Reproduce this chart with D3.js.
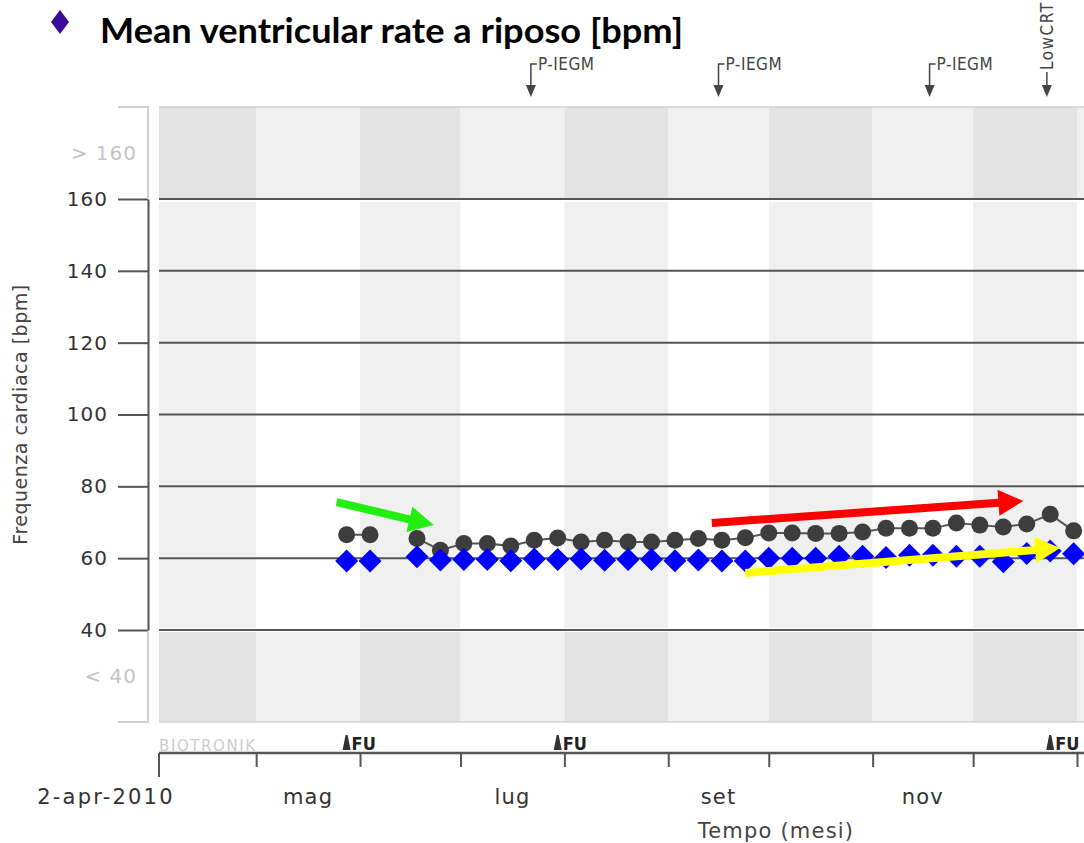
<!DOCTYPE html>
<html>

<head>
  <meta charset="utf-8">
  <style>
    body {
      margin: 0;
      background: #fff;
    }

    svg text {
      font-family: "DejaVu Sans", sans-serif;
    }

    .title {
      font-family: Lato, "Open Sans", sans-serif !important;
      font-weight: bold;
      font-size: 35px;
      fill: #000;
    }

    .ytick text {
      font-size: 20px;
      fill: #333;
      letter-spacing: 1px;
    }

    .xlabel {
      font-size: 21px;
      fill: #333;
      letter-spacing: 1.2px;
    }

    .event {
      font-family: "Liberation Sans Narrow", "DejaVu Sans Condensed", sans-serif !important;
      font-size: 17px;
      fill: #444;
    }
  </style>
</head>

<body>
  <svg id="chart" width="1084" height="843"></svg>

  <script src="https://d3js.org/d3.v7.min.js"></script>
  <script>
    // weekly readings
    var dates = ['2010-05-28', '2010-06-04', '2010-06-11', '2010-06-18', '2010-06-25', '2010-07-02',
      '2010-07-09', '2010-07-16', '2010-07-23', '2010-07-30', '2010-08-06', '2010-08-13',
      '2010-08-20', '2010-08-27', '2010-09-03', '2010-09-10', '2010-09-17', '2010-09-24',
      '2010-10-01', '2010-10-08', '2010-10-15', '2010-10-22', '2010-10-29', '2010-11-05',
      '2010-11-12', '2010-11-19', '2010-11-26', '2010-12-03', '2010-12-10', '2010-12-17',
      '2010-12-24', '2010-12-31'];

    var restRate = [66.5, 66.5, null, 65.5, 62.2, 64.1, 64.1, 63.4, 65, 65.6, 64.5, 65,
      64.5, 64.5, 65, 65.5, 65, 65.7, 67, 67, 66.9, 66.9, 67.3, 68.3,
      68.3, 68.3, 69.8, 69.2, 68.7, 69.5, 72.2, 67.6];

    var meanVentricular = [59.2, 59.2, null, 60.4, 59.5, 59.6, 59.6, 59.3, 59.8, 59.6, 59.8, 59.4,
      59.6, 59.6, 59.3, 59.5, 59.2, 59.2, 60, 60, 60, 60.5, 60.5, 60.2,
      60.8, 60.8, 60.5, 60.5, 59, 61.3, 62, 61.2];

    var yTicks = [40, 60, 80, 100, 120, 140, 160];
    var monthNames = ['gen', 'feb', 'mar', 'apr', 'mag', 'giu', 'lug', 'ago', 'set', 'ott', 'nov', 'dic'];
    var labelledMonths = ['2010-05-01', '2010-07-01', '2010-09-01', '2010-11-01'];

    var followUps = ['2010-05-28', '2010-07-30', '2010-12-24'];
    var eventDates = ['2010-07-22', '2010-09-16', '2010-11-18', '2010-12-23'];
    var eventLabels = ['P-IEGM', 'P-IEGM', 'P-IEGM', 'LowCRT'];

    // hand-drawn arrows: [start date, start bpm, end date, end bpm]
    var arrowColors = ['#22ee11', '#ff0000', '#ffff00'];
    var arrowStarts = [['2010-05-25', 75.6], ['2010-09-14', 69.8], ['2010-09-24', 55.9]];
    var arrowEnds = [['2010-06-23', 69.2], ['2010-12-16', 75.9], ['2010-12-27', 62.8]];

    var width = 1084,
      height = 843,
      plotLeft = 159,
      zoneHeight = 92;

    var parse = d3.timeParse('%Y-%m-%d');
    var start = parse('2010-04-02');

    var x = d3.scaleTime()
      .domain([start, parse('2011-01-01')])
      .range([plotLeft, 1077]);

    var y = d3.scaleLinear()
      .domain([40, 160])
      .range([630, 199]);

    var plotTop = y(160) - zoneHeight,
      plotBottom = y(40) + zoneHeight;

    var svg = d3.select('#chart');

    // month bands
    var months = d3.timeMonth.range(parse('2010-04-01'), parse('2011-02-01'));
    var bands = months.map(function (m, i) {
      return {
        x0: Math.max(x(m), plotLeft),
        x1: Math.min(x(d3.timeMonth.offset(m, 1)), width),
        dark: i % 2 === 0
      };
    }).filter(function (b) { return b.x1 > b.x0; });

    var zones = [
      { y0: plotTop, y1: y(160) - 1, outer: true },
      { y0: y(160) + 3, y1: y(40) - 2, outer: false },
      { y0: y(40) + 2, y1: plotBottom, outer: true }
    ];

    zones.forEach(function (z) {
      svg.append('g').selectAll('rect')
        .data(bands)
        .join('rect')
        .attr('x', d => d.x0)
        .attr('width', d => d.x1 - d.x0)
        .attr('y', z.y0)
        .attr('height', z.y1 - z.y0)
        .attr('fill', d => z.outer ? (d.dark ? '#e3e3e3' : '#f0f0f0') : (d.dark ? '#f0f0f0' : '#ffffff'));
    });

    // frame edges
    svg.append('g').selectAll('line')
      .data([plotTop, plotBottom])
      .join('line')
      .attr('x1', plotLeft).attr('x2', width)
      .attr('y1', d => d).attr('y2', d => d)
      .attr('stroke', '#d2d2d2').attr('stroke-width', 1.5);

    // gridlines
    svg.append('g').selectAll('line')
      .data(yTicks)
      .join('line')
      .attr('x1', plotLeft).attr('x2', width)
      .attr('y1', d => y(d)).attr('y2', d => y(d))
      .attr('stroke', '#555').attr('stroke-width', 2);

    // y axis
    var yAxis = svg.append('g')
      .attr('class', 'ytick')
      .attr('transform', 'translate(148,0)')
      .call(d3.axisLeft(y).tickValues(yTicks).tickSize(30).tickSizeOuter(0).tickPadding(10));
    yAxis.select('.domain').attr('stroke', '#555').attr('stroke-width', 2);
    yAxis.selectAll('.tick line').attr('stroke', '#555').attr('stroke-width', 2);
    yAxis.selectAll('.tick text').style('font-family', '"DejaVu Sans", sans-serif');

    var axisGray = svg.append('g').attr('stroke', '#cfcfcf').attr('stroke-width', 2).attr('fill', 'none');
    axisGray.append('path').attr('d', 'M118,' + plotTop + 'H148V' + (y(160) - 1));
    axisGray.append('path').attr('d', 'M118,' + plotBottom + 'H148V' + (y(40) + 1));

    svg.append('text').attr('class', 'ytick').attr('x', 137).attr('y', (plotTop + y(160)) / 2)
      .attr('text-anchor', 'end').attr('dy', '0.35em')
      .style('fill', '#c4c4c4').style('font-size', '20px').style('letter-spacing', '1px')
      .text('> 160');
    svg.append('text').attr('class', 'ytick').attr('x', 137).attr('y', (plotBottom + y(40)) / 2)
      .attr('text-anchor', 'end').attr('dy', '0.35em')
      .style('fill', '#c4c4c4').style('font-size', '20px').style('letter-spacing', '1px')
      .text('< 40');

    svg.append('text')
      .attr('transform', 'translate(27,' + (y(100)) + ') rotate(-90)')
      .attr('text-anchor', 'middle')
      .style('font-size', '19px').style('fill', '#444').style('letter-spacing', '0.5px')
      .text('Frequenza cardiaca [bpm]');

    // x axis
    var axisY = 753;
    var xAxis = svg.append('g')
      .attr('transform', 'translate(0,' + axisY + ')')
      .call(d3.axisBottom(x).tickValues(months.slice(1, 10)).tickSize(14).tickSizeOuter(0).tickFormat(''));
    xAxis.select('.domain').remove();
    xAxis.selectAll('.tick line').attr('stroke', '#555').attr('stroke-width', 2);
    svg.append('line')
      .attr('x1', plotLeft).attr('x2', width).attr('y1', axisY).attr('y2', axisY)
      .attr('stroke', '#555').attr('stroke-width', 2.5);
    svg.append('line')
      .attr('x1', x(start)).attr('x2', x(start)).attr('y1', axisY).attr('y2', axisY + 24)
      .attr('stroke', '#555').attr('stroke-width', 2);

    svg.append('text').attr('class', 'xlabel')
      .attr('x', 106).attr('y', 804).attr('text-anchor', 'middle')
      .style('letter-spacing', '2.2px')
      .text(d3.timeFormat('%-d')(start) + '-' + monthNames[start.getMonth()] + '-' + start.getFullYear());

    svg.append('g').selectAll('text')
      .data(labelledMonths.map(parse))
      .join('text')
      .attr('class', 'xlabel')
      .attr('x', d => (x(d) + x(d3.timeMonth.offset(d, 1))) / 2)
      .attr('y', 804)
      .attr('text-anchor', 'middle')
      .text(d => monthNames[d.getMonth()]);

    svg.append('text').attr('class', 'xlabel')
      .attr('x', 776).attr('y', 838).attr('text-anchor', 'middle')
      .style('fill', '#444')
      .text('Tempo (mesi)');

    svg.append('text')
      .attr('x', plotLeft).attr('y', 751)
      .style('font-size', '15px').style('fill', '#cdcdcd').style('letter-spacing', '1.6px')
      .text('BIOTRONIK');

    // follow-up markers
    var fu = svg.append('g').selectAll('g')
      .data(followUps.map(parse))
      .join('g')
      .attr('transform', d => 'translate(' + x(d) + ',750)');
    fu.append('path')
      .attr('d', 'M-4,0L-1,-15L1,-15L4,0Z')
      .attr('fill', '#333');
    fu.append('text')
      .attr('x', 5).attr('y', 0)
      .style('font-family', '"Liberation Sans Narrow", "DejaVu Sans Condensed", sans-serif')
      .style('font-weight', 'bold').style('font-size', '18px').style('fill', '#222')
      .text('FU');

    // event markers above the chart
    var ev = svg.append('g').selectAll('g')
      .data(eventDates.map(function (d, i) { return { date: parse(d), label: eventLabels[i] }; }))
      .join('g')
      .attr('transform', d => 'translate(' + x(d.date) + ',0)');
    ev.append('path')
      .attr('d', d => d.label === 'LowCRT' ? 'M0,72V88' : 'M6,64H0V88')
      .attr('stroke', '#444').attr('stroke-width', 1.5).attr('fill', 'none');
    ev.append('path')
      .attr('d', 'M-5,85L5,85L0,97Z')
      .attr('fill', '#444');
    ev.filter(d => d.label !== 'LowCRT').append('text')
      .attr('class', 'event')
      .attr('x', 7).attr('y', 70)
      .style('letter-spacing', '0.5px')
      .text(d => d.label);
    ev.filter(d => d.label === 'LowCRT').append('text')
      .attr('class', 'event')
      .attr('transform', 'translate(6,70) rotate(-90)')
      .style('letter-spacing', '1.5px')
      .text(d => d.label);

    // series
    var rows = dates.map(function (d, i) {
      return { date: parse(d), rate: restRate[i], mean: meanVentricular[i] };
    });

    var line = d3.line()
      .defined(d => d.rate !== null)
      .x(d => x(d.date))
      .y(d => y(d.rate));

    svg.append('path')
      .datum(rows)
      .attr('d', line)
      .attr('fill', 'none')
      .attr('stroke', '#555')
      .attr('stroke-width', 2);

    svg.append('g').selectAll('circle')
      .data(rows.filter(d => d.rate !== null))
      .join('circle')
      .attr('cx', d => x(d.date))
      .attr('cy', d => y(d.rate))
      .attr('r', 8.5)
      .attr('fill', '#3d3d3d');

    svg.append('g').selectAll('path')
      .data(rows.filter(d => d.mean !== null))
      .join('path')
      .attr('transform', d => 'translate(' + x(d.date) + ',' + y(d.mean) + ')')
      .attr('d', 'M0,-11.5L11.5,0L0,11.5L-11.5,0Z')
      .attr('fill', '#0000ff');

    // annotation arrows
    function arrowPath(x1, y1, x2, y2) {
      var dx = x2 - x1, dy = y2 - y1, len = Math.sqrt(dx * dx + dy * dy);
      var ux = dx / len, uy = dy / len, nx = -uy, ny = ux;
      var w = 4, hl = 25, hw = 13;
      var bx = x2 - ux * hl, by = y2 - uy * hl;
      var pts = [
        [x1 + nx * w, y1 + ny * w], [bx + nx * w, by + ny * w], [bx + nx * hw, by + ny * hw],
        [x2, y2],
        [bx - nx * hw, by - ny * hw], [bx - nx * w, by - ny * w], [x1 - nx * w, y1 - ny * w]
      ];
      return 'M' + pts.map(p => p.join(',')).join('L') + 'Z';
    }

    svg.append('g').selectAll('path')
      .data(arrowColors)
      .join('path')
      .attr('d', function (c, i) {
        return arrowPath(x(parse(arrowStarts[i][0])), y(arrowStarts[i][1]),
          x(parse(arrowEnds[i][0])), y(arrowEnds[i][1]));
      })
      .attr('fill', c => c);

    // title
    svg.append('path')
      .attr('d', 'M60,10L69,22L60,34L51,22Z')
      .attr('fill', '#3b0c9c');
    svg.append('text')
      .attr('class', 'title')
      .attr('x', 100).attr('y', 43)
      .attr('textLength', 583).attr('lengthAdjust', 'spacingAndGlyphs')
      .text('Mean ventricular rate a riposo [bpm]');
  </script>
</body>

</html>
